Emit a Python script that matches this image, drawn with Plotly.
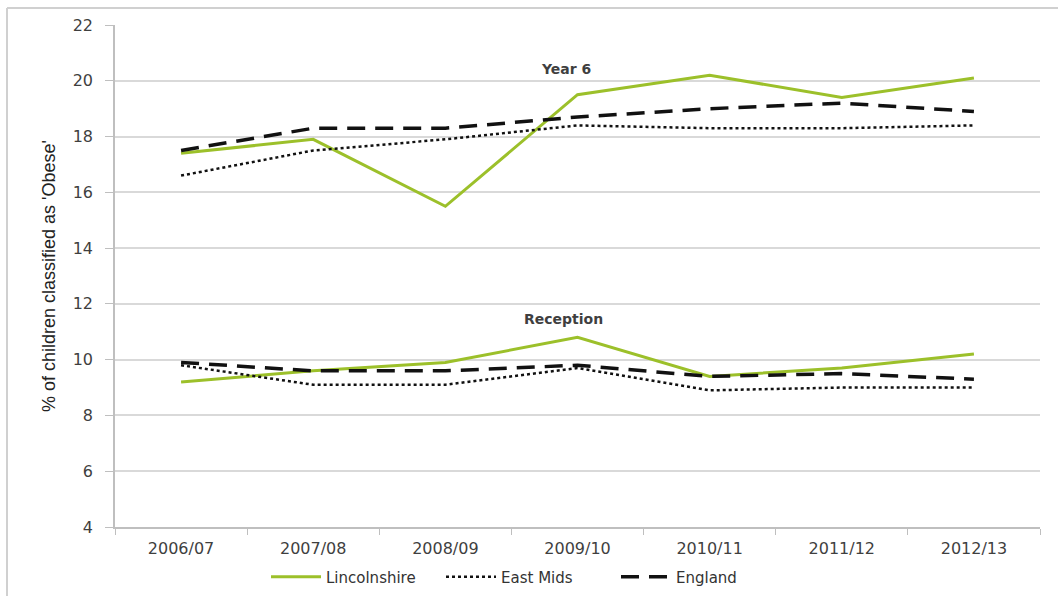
import plotly.graph_objects as go

years = ["2006/07", "2007/08", "2008/09", "2009/10", "2010/11", "2011/12", "2012/13"]

# Year 6 obesity prevalence (%)
y6_lincolnshire = [17.4, 17.9, 15.5, 19.5, 20.2, 19.4, 20.1]
y6_east_mids = [16.6, 17.5, 17.9, 18.4, 18.3, 18.3, 18.4]
y6_england = [17.5, 18.3, 18.3, 18.7, 19.0, 19.2, 18.9]

# Reception obesity prevalence (%)
rec_lincolnshire = [9.2, 9.6, 9.9, 10.8, 9.4, 9.7, 10.2]
rec_east_mids = [9.8, 9.1, 9.1, 9.7, 8.9, 9.0, 9.0]
rec_england = [9.9, 9.6, 9.6, 9.8, 9.4, 9.5, 9.3]

y_ticks = [4, 6, 8, 10, 12, 14, 16, 18, 20, 22]

GREEN = "#9cc02a"
BLACK = "#111111"
FONT = "DejaVu Sans, Verdana, sans-serif"
TEXT = "#3f3f3f"

styles = {
    "Lincolnshire": dict(color=GREEN, width=3, dash="solid"),
    "East Mids": dict(color=BLACK, width=2.5, dash="dot"),
    "England": dict(color=BLACK, width=3.5, dash="18px,10px"),
}

fig = go.Figure()

series = [
    ("Lincolnshire", y6_lincolnshire, rec_lincolnshire),
    ("East Mids", y6_east_mids, rec_east_mids),
    ("England", y6_england, rec_england),
]

for name, y6, rec in series:
    fig.add_trace(go.Scatter(x=years, y=y6, mode="lines", name=name,
                             line=styles[name], legendgroup=name, showlegend=True))
    fig.add_trace(go.Scatter(x=years, y=rec, mode="lines", name=name,
                             line=styles[name], legendgroup=name, showlegend=False))

fig.add_annotation(x=3.0, y=20.42, xref="x", yref="y", text="<b>Year 6</b>",
                   showarrow=False, font=dict(family=FONT, size=14, color=TEXT),
                   xanchor="center", yanchor="middle", xshift=-12)
fig.add_annotation(x=3.0, y=11.45, xref="x", yref="y", text="<b>Reception</b>",
                   showarrow=False, font=dict(family=FONT, size=14, color=TEXT),
                   xanchor="center", yanchor="middle", xshift=-14)

# Outer frame (top and left edges)
top = (596 - 69 - 8) / 502
left = (7 - 115) / 925
fig.add_shape(type="line", xref="paper", yref="paper",
              x0=left, x1=(1058 - 115) / 925, y0=top, y1=top,
              line=dict(color="#d0d0d0", width=2))
fig.add_shape(type="line", xref="paper", yref="paper",
              x0=left, x1=left, y0=-69 / 502, y1=top,
              line=dict(color="#d0d0d0", width=2))

fig.update_layout(
    width=1058, height=596,
    margin=dict(l=115, r=18, t=25, b=69, autoexpand=False),
    paper_bgcolor="white", plot_bgcolor="white",
    font=dict(family=FONT, size=15, color=TEXT),
    showlegend=True,
    legend=dict(orientation="h", x=(266 - 115) / 925, xanchor="left",
                y=-50 / 502, yanchor="middle",
                font=dict(family=FONT, size=15, color="#333333"),
                itemwidth=50, tracegroupgap=0,
                entrywidth=110, entrywidthmode="pixels"),
    xaxis=dict(
        type="category", range=[-0.5, 6.5], tickson="boundaries",
        showgrid=False, showline=True, linecolor="#bfbfbf", linewidth=1.5,
        ticks="outside", ticklen=6, tickcolor="#bfbfbf",
        ticklabelstandoff=6,
        tickfont=dict(family=FONT, size=16, color=TEXT),
    ),
    yaxis=dict(
        range=[4, 22], tickvals=y_ticks, showgrid=True, gridcolor="#d9d9d9", gridwidth=1.5,
        showline=True, linecolor="#bfbfbf", linewidth=1.5,
        ticks="outside", ticklen=8, tickcolor="#bfbfbf",
        zeroline=False, ticklabelstandoff=9,
        tickfont=dict(family=FONT, size=16, color=TEXT),
        title=dict(text="% of children classified as 'Obese'", standoff=12,
                   font=dict(family="Liberation Sans Narrow, Arial Narrow, sans-serif", size=18, color="#222222")),
    ),
)

fig.write_html("out.html")
